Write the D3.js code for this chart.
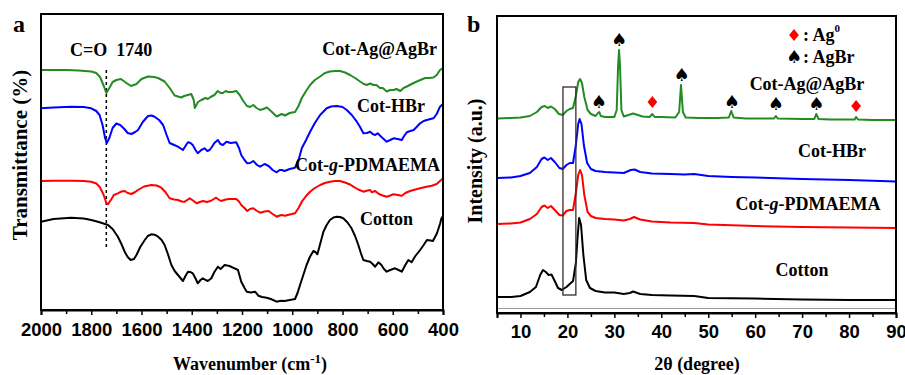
<!DOCTYPE html>
<html>
<head>
<meta charset="utf-8">
<script src="https://cdn.jsdelivr.net/npm/d3@7"></script>
<style>
  body { margin: 0; background: #fff; }
  text { font-family: "Liberation Serif", "Times New Roman", serif; font-weight: bold; fill: #000; }
  .tick text { font-family: "Liberation Sans", Arial, sans-serif; font-weight: bold; font-size: 18.5px; }
</style>
</head>
<body>
<svg id="fig" width="905" height="375"></svg>
<script>
// ---- panel a : FTIR, [wavenumber, transmittance a.u.] ----
const ftirGreen = [[2000,240],[1950,240],[1900,240],[1850,239.5],[1800,238.5],[1780,237],[1765,233],[1750,224],[1740,217],[1728,222],[1715,228],[1700,230],[1682,231],[1660,227],[1642,224],[1620,226],[1600,231],[1574,233.5],[1550,233],[1534,232],[1508,228.5],[1488,222],[1468,214.5],[1442,212.5],[1430,214],[1402,216],[1392,210],[1388,202],[1375,208],[1362,210],[1345,212],[1336,211],[1325,213],[1310,215],[1296,219],[1285,217],[1276,217],[1265,219],[1256,218],[1240,218],[1223,219],[1209,215],[1195,209],[1180,204],[1168,203],[1155,205],[1142,202],[1128,200],[1115,201],[1101,202.5],[1085,199],[1062,193.5],[1050,195],[1042,196],[1029,194.5],[1010,197],[989,198],[975,204],[962,212],[945,219],[929,225],[910,230],[889,233.5],[870,237],[850,238.5],[830,239],[810,239],[790,237.5],[770,235],[750,232],[730,228.5],[715,226],[703,225],[690,226.5],[677,225],[665,225],[651,222],[640,222],[624,218.5],[610,220],[597,220],[585,221],[570,219],[557,222],[544,223.5],[525,226],[504,228.5],[490,230],[471,232],[455,232],[438,232.5],[425,235],[412,240],[400,242]];
const ftirBlue = [[2000,201.7],[1950,202.5],[1880,203.3],[1830,203],[1800,201.7],[1780,199],[1767,195],[1755,185],[1745,172],[1738,167],[1728,172],[1715,182],[1700,186.5],[1685,185],[1668,181],[1655,177],[1640,176],[1625,178],[1614,180],[1595,188],[1574,194],[1560,194.5],[1548,193.3],[1530,190],[1514,185],[1500,175],[1488,167],[1470,165],[1455,163.3],[1435,160],[1425,164],[1415,167.7],[1405,167],[1396,165],[1385,160],[1376,156.7],[1362,160],[1349,161.7],[1338,159],[1329,160],[1320,163],[1310,167],[1296,170],[1286,166],[1276,165],[1262,168.3],[1245,167],[1223,167.7],[1212,162],[1203,155],[1190,150],[1179,146.7],[1168,147],[1155,149],[1140,145],[1128,143.3],[1110,146],[1094,144],[1078,140],[1062,137.7],[1050,140],[1042,140],[1031,139],[1010,141],[989,142.3],[975,150],[962,161.7],[945,170],[929,178.3],[910,187],[889,195],[863,201.7],[845,203.5],[823,204],[800,203],[783,200],[763,195],[743,188.3],[730,183],[717,176.7],[703,177],[690,178.3],[680,176],[670,175],[660,176.7],[645,173],[624,168.3],[610,170],[597,171.7],[580,171],[564,170],[555,174],[544,177.7],[530,179],[517,180],[505,183],[491,186.7],[477,189],[464,190],[450,191],[438,191.7],[425,196],[412,203.3],[400,206]];
const ftirRed = [[2000,129],[1950,129.2],[1880,129.3],[1830,129],[1800,128.3],[1780,126.5],[1767,123.3],[1752,116],[1740,107],[1733,105.7],[1722,110],[1710,115],[1694,116.7],[1680,118.5],[1667,119],[1655,117],[1640,116],[1625,118],[1614,120],[1590,123.5],[1561,125],[1540,124.5],[1521,122.3],[1505,118],[1488,111.7],[1470,110.5],[1455,110],[1440,108.5],[1428,108.3],[1418,110],[1408,111.7],[1395,109.5],[1381,106.7],[1368,108],[1355,109],[1340,108],[1325,109],[1312,111],[1303,112.3],[1290,110],[1283,109],[1265,110.5],[1250,111],[1223,111],[1212,108.5],[1203,105],[1190,102],[1179,99],[1168,101],[1155,101.7],[1140,99],[1128,97.3],[1110,98.5],[1094,99],[1078,96],[1062,93.3],[1050,94.5],[1042,95],[1029,94.3],[1010,95.5],[989,96.7],[975,102],[962,108.3],[945,114],[929,118.3],[910,122],[889,125],[870,127],[850,128.3],[830,129],[810,129],[790,127.5],[770,125.5],[757,123.3],[737,120.5],[717,118.3],[700,119.5],[690,120],[683,117.7],[670,119],[655,116],[640,114.5],[624,113.3],[610,114.5],[597,115.7],[580,115],[564,114.3],[550,117],[531,119],[510,120.5],[491,121.7],[470,123],[445,124.3],[425,126],[412,129],[400,131.5]];
const ftirBlack = [[2000,88.3],[1950,91],[1880,92.3],[1830,91.5],[1800,90],[1770,88],[1733,85],[1715,81],[1694,73.3],[1680,66],[1667,58.3],[1655,53],[1643,50],[1630,51],[1620,55],[1605,63],[1587,70],[1575,74],[1561,75.7],[1548,75.3],[1534,73.3],[1520,70],[1508,65],[1495,56],[1481,45],[1468,39],[1455,35],[1445,32],[1435,29],[1425,34],[1415,38.3],[1405,38],[1396,36.7],[1386,32],[1376,26.7],[1365,30],[1356,31.7],[1345,30],[1336,29],[1322,31.7],[1310,38],[1296,43.3],[1285,41],[1269,45],[1250,44],[1236,42.3],[1216,40],[1203,28.3],[1190,22],[1181,18.3],[1165,17.5],[1148,18.3],[1135,14.3],[1120,13],[1102,12.3],[1085,11],[1062,8.3],[1050,9],[1042,9.3],[1031,9],[1010,10],[989,11],[979,17],[969,25],[956,35],[943,45],[930,53],[916,59],[908,58],[900,55.7],[890,65],[876,78.3],[863,85],[850,90],[836,92.5],[823,93.3],[810,93],[797,91.7],[780,87.5],[764,81.7],[750,74],[737,65],[727,57],[717,50],[703,49],[690,48.3],[680,46],[670,43.3],[657,47.7],[645,45],[635,41],[624,38.3],[610,40],[591,41.7],[577,40],[564,38.3],[550,45],[538,50],[525,47.7],[510,54],[491,60],[477,65],[464,70],[450,69.5],[440,69],[424,76.7],[412,86],[406,91.7],[400,94]];
const ftirTicks = [2000,1800,1600,1400,1200,1000,800,600,400];
const ftirMinor = [1900,1700,1500,1300,1100,900,700,500];
const coLine = 1740;

// ---- panel b : XRD, [2theta, intensity a.u.] ----
const xrdGreen = [[5,194.5],[8,195],[10,195.5],[12,197],[13.5,201],[14.5,206],[15.2,207],[15.8,205],[16.5,206.5],[17.3,204],[18.2,199],[19,198],[19.8,202],[20.5,204],[21.2,205],[21.8,217],[22.3,231],[22.7,234],[23.1,230],[23.6,216],[24.3,203],[25,199],[26,197],[26.5,200],[26.8,201],[27.1,197],[28,196],[30,196],[30.5,203],[30.8,248],[31,263],[31.2,248],[31.5,203],[32,196.5],[33,198],[34,199.5],[35,198],[36,196.5],[37.5,196],[38.1,199],[38.6,196],[40,196],[43,195.5],[43.8,201],[44.2,228],[44.6,201],[45.2,195.5],[48,195],[52,195],[54.4,195.5],[54.9,202],[55.4,195.5],[58,194.5],[64,194.5],[64.4,197],[64.8,194.5],[70,194],[72.6,194],[73,199],[73.5,194],[76,193.5],[81.2,193.5],[81.5,196],[81.9,193.5],[85,193],[90,193]];
const xrdBlue = [[5,135],[8,135.5],[10,137],[12,140],[13.5,146],[14.5,154],[15.1,155.5],[15.8,153],[16.5,155],[17.3,151],[18.3,145],[19,144],[19.8,148],[20.5,150],[21.2,150],[21.8,168],[22.3,189],[22.6,194],[23,189],[23.5,168],[24.2,150],[25,144],[26,142],[28,141],[30,140.5],[32,140],[33.5,143],[34.3,143.5],[35.5,141],[38,139.5],[42,139],[45,138.5],[47,139],[50,137],[55,136],[60,135.5],[70,134],[80,133],[90,131.5]];
const xrdRed = [[5,89],[8,89.5],[10,90.5],[12,94],[13.5,99],[14.5,106],[15.1,107.5],[15.8,105],[16.5,107],[17.3,103],[18.3,98],[19,97.5],[19.8,102],[20.5,103],[21.2,103],[21.8,120],[22.3,138],[22.7,143],[23.1,138],[23.6,118],[24.3,101],[25,97],[26,95],[28,94],[30,93.5],[32,92.5],[33.3,94],[34.2,96],[35.5,93.5],[38,91.5],[42,90.5],[47,90],[50,88.5],[60,87],[70,86],[80,85.5],[90,85]];
const xrdBlack = [[5,16],[8,16],[10,17],[12,21],[13.3,26],[14.2,38],[14.8,43],[15.4,41],[16,38],[16.6,38.5],[17.3,32],[18,25],[18.8,23],[19.8,26],[20.5,29],[21.2,32],[21.8,50],[22.2,78],[22.5,95],[22.9,88],[23.4,58],[24,33],[24.8,25],[26,22],[28,20.5],[30,20.5],[32,19],[33.3,20],[34,21.5],[35.5,19],[38,18],[42,17.5],[47,17],[50,15],[60,14.5],[70,13.5],[80,13],[90,13]];
const agbrPeaks = [[26.7,211],[31,273],[44.3,238],[55,211],[64.4,209],[73,209]];
const ag0Peaks = [[38.1,211],[81.5,207]];
const xrdTicks = [10,20,30,40,50,60,70,80,90];
const xrdMinor = [5,15,25,35,45,55,65,75,85];
const boxRange = [19.05, 21.8, 18, 226];

const svg = d3.select("#fig");
svg.append("rect").attr("width", 905).attr("height", 375).attr("fill", "#fff");

const colors = { green: "#228B22", blue: "#0000FF", red: "#FF0000", black: "#000000" };

// ================= panel a =================
const xA = d3.scaleLinear().domain([2000, 400]).range([41, 443]);
const yA = d3.scaleLinear().domain([0, 296]).range([310, 14]);
const gA = svg.append("g");

const lineA = d3.line().x(d => xA(d[0])).y(d => yA(d[1]));

gA.append("line")
  .attr("x1", xA(coLine)).attr("x2", xA(coLine))
  .attr("y1", 70).attr("y2", 247)
  .attr("stroke", "#000").attr("stroke-width", 1.5)
  .attr("stroke-dasharray", "3,3");

[[ftirBlack, colors.black], [ftirRed, colors.red], [ftirBlue, colors.blue], [ftirGreen, colors.green]]
  .forEach(([data, c]) => {
    gA.append("path").datum(data)
      .attr("d", lineA)
      .attr("fill", "none")
      .attr("stroke", c)
      .attr("stroke-width", 2)
      .attr("stroke-linejoin", "round");
  });

gA.append("rect")
  .attr("x", 41).attr("y", 14).attr("width", 402).attr("height", 296)
  .attr("fill", "none").attr("stroke", "#000").attr("stroke-width", 2);

gA.append("g").attr("transform", "translate(0,310)")
  .call(d3.axisBottom(xA).tickValues(ftirMinor).tickSize(4).tickFormat(""))
  .call(g => g.select(".domain").remove())
  .call(g => g.selectAll("line").attr("stroke-width", 1.5));
gA.append("g").attr("transform", "translate(0,310)")
  .call(d3.axisBottom(xA).tickValues(ftirTicks).tickSize(5).tickPadding(8).tickFormat(d3.format("d")))
  .call(g => g.select(".domain").attr("stroke-width", 2))
  .call(g => g.selectAll("line").attr("stroke-width", 1.5));

gA.append("text").attr("x", 70).attr("y", 56).attr("font-size", 18).text("C=O  1740").style("white-space", "pre");
const labA = [["Cot-Ag@AgBr", 437, 55], ["Cot-HBr", 425, 112], ["Cotton", 413, 225]];
labA.forEach(([t, x, y]) => gA.append("text").attr("x", x).attr("y", y).attr("font-size", 18).attr("text-anchor", "end").text(t));
const pdA = gA.append("text").attr("x", 440).attr("y", 171).attr("font-size", 18).attr("text-anchor", "end");
pdA.append("tspan").text("Cot-");
pdA.append("tspan").attr("font-style", "italic").text("g");
pdA.append("tspan").text("-PDMAEMA");

gA.append("text").attr("x", 13).attr("y", 32).attr("font-size", 24).text("a");

const xtA = gA.append("text").attr("x", 250).attr("y", 370).attr("font-size", 18).attr("text-anchor", "middle");
xtA.append("tspan").text("Wavenumber (cm");
xtA.append("tspan").attr("font-size", 13).attr("dy", -7).text("-1");
xtA.append("tspan").attr("dy", 7).text(")");

gA.append("text").attr("transform", "translate(27,155) rotate(-90)")
  .attr("font-size", 21).attr("text-anchor", "middle").text("Transmittance (%)");

// ================= panel b =================
const xB = d3.scaleLinear().domain([5, 90]).range([497, 896]);
const yB = d3.scaleLinear().domain([0, 297]).range([313, 16]);
const gB = svg.append("g");

const lineB = d3.line().x(d => xB(d[0])).y(d => yB(d[1]));

gB.append("line").attr("x1", 497).attr("x2", 896).attr("y1", 308.5).attr("y2", 308.5)
  .attr("stroke", "#999").attr("stroke-width", 1);

[[xrdBlack, colors.black], [xrdRed, colors.red], [xrdBlue, colors.blue], [xrdGreen, colors.green]]
  .forEach(([data, c]) => {
    gB.append("path").datum(data)
      .attr("d", lineB)
      .attr("fill", "none")
      .attr("stroke", c)
      .attr("stroke-width", 2)
      .attr("stroke-linejoin", "round");
  });

gB.append("rect")
  .attr("x", xB(boxRange[0])).attr("y", yB(boxRange[3]))
  .attr("width", xB(boxRange[1]) - xB(boxRange[0]))
  .attr("height", yB(boxRange[2]) - yB(boxRange[3]))
  .attr("fill", "none").attr("stroke", "#3a2a2a").attr("stroke-width", 1.3);

gB.append("rect")
  .attr("x", 497).attr("y", 16).attr("width", 399).attr("height", 297)
  .attr("fill", "none").attr("stroke", "#000").attr("stroke-width", 2);

gB.append("g").attr("transform", "translate(0,313)")
  .call(d3.axisBottom(xB).tickValues(xrdMinor).tickSize(4).tickFormat(""))
  .call(g => g.select(".domain").remove())
  .call(g => g.selectAll("line").attr("stroke-width", 1.5));
gB.append("g").attr("transform", "translate(0,313)")
  .call(d3.axisBottom(xB).tickValues(xrdTicks).tickSize(5).tickPadding(7).tickFormat(d3.format("d")))
  .call(g => g.select(".domain").attr("stroke-width", 2))
  .call(g => g.selectAll("line").attr("stroke-width", 1.5));

// peak markers
gB.selectAll(".spade").data(agbrPeaks).enter().append("text")
  .attr("class", "spade")
  .attr("x", d => xB(d[0])).attr("y", d => yB(d[1]) + 6)
  .attr("text-anchor", "middle")
  .style("font-family", "'DejaVu Sans', sans-serif").attr("font-size", 18)
  .text("\u2660");
// rhombus a little taller than wide
const diamond = d3.symbol().type(d3.symbolSquare).size(48);
const diaTf = (x, y) => `translate(${x},${y}) scale(1,1.2) rotate(45)`;
gB.selectAll(".dia").data(ag0Peaks).enter().append("path")
  .attr("class", "dia")
  .attr("transform", d => diaTf(xB(d[0]), yB(d[1])))
  .attr("d", diamond).attr("fill", colors.red);

// legend
gB.append("path").attr("transform", diaTf(794, 35)).attr("d", diamond).attr("fill", colors.red);
const lg1 = gB.append("text").attr("x", 803).attr("y", 41).attr("font-size", 18);
lg1.append("tspan").text(": Ag");
lg1.append("tspan").attr("font-size", 11).attr("dy", -9).text("0");
gB.append("text").attr("x", 794).attr("y", 63).attr("text-anchor", "middle")
  .style("font-family", "'DejaVu Sans', sans-serif").attr("font-size", 18).text("\u2660");
gB.append("text").attr("x", 803).attr("y", 63).attr("font-size", 18).text(": AgBr");

const labB = [["Cot-Ag@AgBr", 807, 90], ["Cot-HBr", 832, 157], ["Cotton", 802, 276]];
labB.forEach(([t, x, y]) => gB.append("text").attr("x", x).attr("y", y).attr("font-size", 18).attr("text-anchor", "middle").text(t));
const pdB = gB.append("text").attr("x", 808).attr("y", 210).attr("font-size", 18).attr("text-anchor", "middle");
pdB.append("tspan").text("Cot-");
pdB.append("tspan").attr("font-style", "italic").text("g");
pdB.append("tspan").text("-PDMAEMA");

gB.append("text").attr("x", 467).attr("y", 32).attr("font-size", 24).text("b");

gB.append("text").attr("x", 697).attr("y", 370).attr("font-size", 18).attr("text-anchor", "middle").text("2\u03b8 (degree)");

gB.append("text").attr("transform", "translate(482,161) rotate(-90)")
  .attr("font-size", 20).attr("text-anchor", "middle").text("Intensity (a.u.)");
</script>
</body>
</html>
